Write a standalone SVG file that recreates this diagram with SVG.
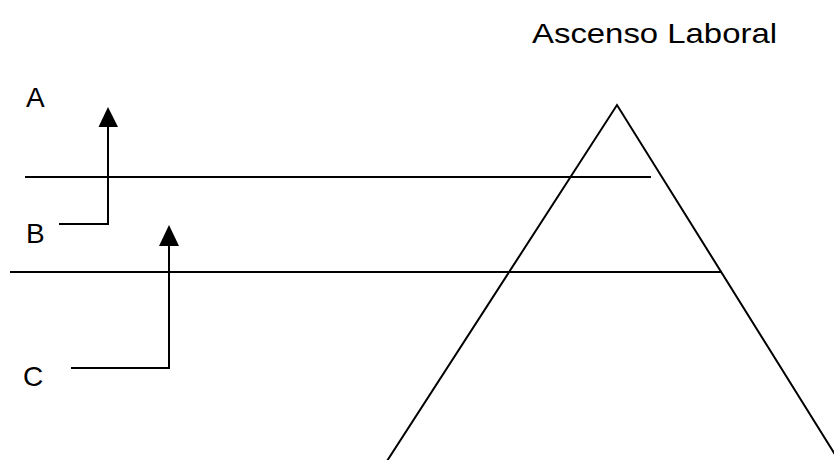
<svg xmlns="http://www.w3.org/2000/svg" width="834" height="460" viewBox="0 0 834 460">
<style>
.ln{stroke:#000;stroke-width:2;fill:none;stroke-linecap:butt}
.lbl{font-family:"Liberation Sans",Arial,sans-serif;font-size:28px;fill:#000}
</style>
<rect width="834" height="460" fill="#fff"/>
<text id="title" class="lbl" x="532" y="43" textLength="245" lengthAdjust="spacingAndGlyphs">Ascenso Laboral</text>
<g id="pyramid">
<path class="ln" d="M387,461 L617,105 L836,456"/>
</g>
<g id="levels">
<line class="ln" x1="25" y1="177" x2="651" y2="177"/>
<line class="ln" x1="10" y1="272" x2="722" y2="272"/>
</g>
<g id="labelA"><text class="lbl" x="26" y="107">A</text></g>
<g id="labelB"><text class="lbl" x="26" y="243">B</text></g>
<g id="labelC"><text class="lbl" x="23" y="386">C</text></g>
<g id="connectors">
<path class="ln" d="M59,224 H108 V124"/>
<polygon points="108,107 98.5,127 118,127" fill="#000"/>
<path class="ln" d="M71,368 H169 V243"/>
<polygon points="169,225 159,246 179,246" fill="#000"/>
</g>
</svg>
